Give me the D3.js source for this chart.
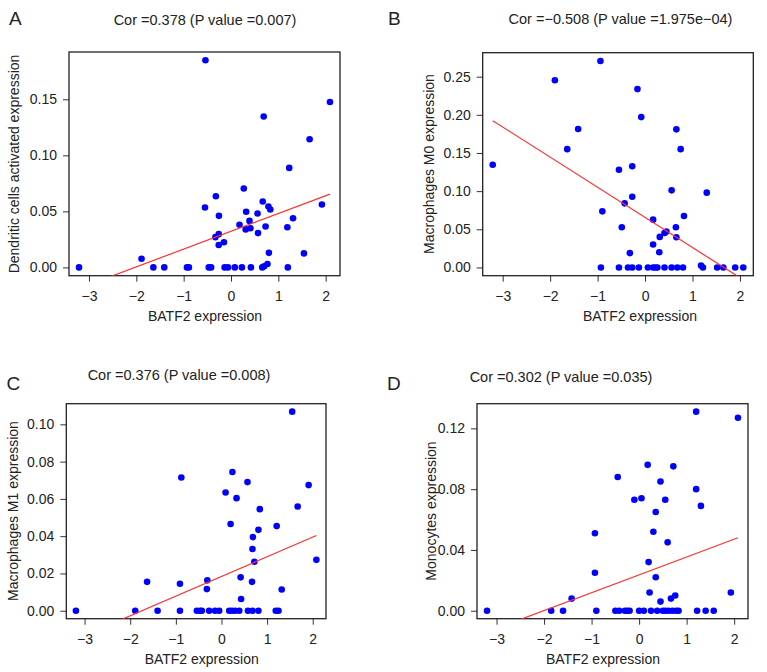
<!DOCTYPE html>
<html><head><meta charset="utf-8">
<script src="https://cdn.jsdelivr.net/npm/d3@7"></script>
<style>
body{margin:0;background:#fff}
text{font-family:"Liberation Sans",Arial,Helvetica,sans-serif;fill:#222}
</style>
</head><body>
<svg id="chart" width="767" height="672"></svg>
<script>
// ---------- DATA ----------
const panelLetters = ["A", "B", "C", "D"];
const titles = [
  "Cor =0.378 (P value =0.007)",
  "Cor =\u22120.508 (P value =1.975e\u221204)",
  "Cor =0.376 (P value =0.008)",
  "Cor =0.302 (P value =0.035)"
];
const xLabel = "BATF2 expression";
const yLabels = [
  "Dendritic cells activated expression",
  "Macrophages M0 expression",
  "Macrophages M1 expression",
  "Monocytes expression"
];
const xTicks = [-3, -2, -1, 0, 1, 2];
const yTicksA = [0, 0.05, 0.10, 0.15];
const yTicksB = [0, 0.05, 0.10, 0.15, 0.20, 0.25];
const yTicksC = [0, 0.02, 0.04, 0.06, 0.08, 0.10];
const yTicksD = [0, 0.04, 0.08, 0.12];

// Panel A: Dendritic cells activated
const dcX = [-3.21,-1.89,-1.64,-1.41,-0.93,-0.89,-0.47,-0.42,-0.135,-0.065,0.08,0.23,0.42,0.66,0.70,0.77,1.20,
  1.66,1.23,0.27,-0.32,-0.55,0.67,0.79,0.83,0.32,0.56,-0.255,0.39,1.92,1.31,0.18,0.31,0.41,0.73,0.57,1.19,
  -0.33,-0.26,-0.26,-0.15,0.80,1.54,-0.54,0.69,2.09];
const dcY = [0,0.0077,0,0,0,0,0,0,0,0,0,0,0,0,0.001,0.003,0,
  0.1143,0.0888,0.0704,0.0635,0.0535,0.0588,0.0544,0.0517,0.0496,0.0481,0.046,0.0415,0.0561,0.0439,0.038,0.0339,0.035,0.0365,0.0306,0.0359,
  0.027,0.0297,0.020,0.0225,0.013,0.0125,0.1848,0.1346,0.1476];

// Panel B: Macrophages M0
const m0X = [-0.93,-0.55,-0.36,-0.27,-0.13,0.06,0.17,0.22,0.26,0.41,0.56,0.68,0.80,1.18,1.22,1.52,1.65,1.90,2.07,
  -1.64,-0.55,-0.27,0.75,0.56,1.30,-0.27,-0.43,-0.90,0.82,0.17,-0.49,0.65,0.45,0.41,0.31,0.66,0.17,-0.32,0.30,
  -0.94,-0.16,-0.08,-1.41,0.66,-1.90,-3.21];
const m0Y = [0,0,0,0,0,0,0,0,0,0,0,0,0,0.0026,0,0,0,0,0,
  0.155,0.128,0.1326,0.155,0.101,0.098,0.0927,0.084,0.0735,0.0674,0.0626,0.0526,0.0526,0.047,0.0452,0.040,0.0395,0.030,0.0187,0.020,
  0.2706,0.2337,0.197,0.1815,0.181,0.2454,0.1345];

// Panel C: Macrophages M1
const m1X = [-0.88,1.55,0.24,0.57,1.91,0.09,0.33,0.84,1.67,0.20,1.21,0.81,0.69,0.68,0.72,2.08,-0.31,-0.32,0.42,0.67,1.32,0.43,
  -0.54,-0.47,-0.43,-0.27,-0.14,-0.05,0.17,0.23,0.30,0.39,0.58,0.68,0.81,1.19,1.25,-3.19,-1.89,-1.40,-0.91,-1.63,-0.91];
const m1Y = [0.0715,0.1068,0.0744,0.069,0.0674,0.0634,0.0604,0.0545,0.0559,0.0465,0.0454,0.0434,0.0395,0.0331,0.0263,0.0273,0.0163,0.0116,0.0179,0.0155,0.0114,0.0063,
  0,0,0,0,0,0,0,0,0,0,0,0,0,0,0,0,0,0,0,0.0155,0.0145];

// Panel D: Monocytes
const monoX = [-3.2,-1.85,-1.6,-1.42,-0.93,-0.93,-0.9,-0.45,-0.5,-0.42,-0.3,-0.2,-0.1,0.05,0.18,0.2,0.1,0.25,0.3,0.35,0.45,0.35,0.38,
  0.45,0.55,0.6,0.67,0.72,0.76,0.7,0.78,0.83,1.2,1.2,1.3,1.22,1.4,1.57,1.93,2.08,0.0,0.55,0.22,-0.25,0.62,0.5];
const monoY = [0,0,0,0.008,0.051,0.025,0,0.088,0,0,0,0,0.073,0.074,0.096,0.032,0,0,0.052,0.065,0.085,0.022,0,
  0.006,0.073,0.045,0.008,0.095,0.01,0,0,0,0.131,0.08,0.069,0,0,0,0.012,0.127,0,0,0.012,0,0,0];

// fitted regression lines: [intercept, slope]
const fitA = [0.0322, 0.01586];
const fitB = [0.0656, -0.0395];
const fitC = [0.0184, 0.01055];
const fitD = [0.0236, 0.01174];

// ---------- LAYOUT ----------
const panels = [
  {x: dcX, y: dcY, fit: fitA, yt: yTicksA, fmt: ".2f",
   box: [69, 52, 340, 275.7], letter: [9, 25], title: [205, 25], xlab: [205, 321], ylab: [18.5, 164]},
  {x: m0X, y: m0Y, fit: fitB, yt: yTicksB, fmt: ".2f",
   box: [482.7, 52.7, 753.3, 275.7], letter: [388, 25], title: [620.5, 23.5], xlab: [640, 321], ylab: [434, 164]},
  {x: m1X, y: m1Y, fit: fitC, yt: yTicksC, fmt: ".2f",
   box: [66.3, 403.7, 326, 618.7], letter: [6.5, 390], title: [179, 380], xlab: [201.7, 663.5], ylab: [18.3, 511]},
  {x: monoX, y: monoY, fit: fitD, yt: yTicksD, fmt: ".2f",
   box: [477, 403.7, 748, 618.7], letter: [387, 390], title: [561, 382], xlab: [603, 663.5], ylab: [436, 511]}
];

const svg = d3.select("#chart");

function rDomain(v) {
  const [mn, mx] = d3.extent(v);
  const r = mx - mn;
  return [mn - 0.04 * r, mx + 0.04 * r];
}

panels.forEach((p, i) => {
  const [x0, y0, x1, y1] = p.box;
  const xs = d3.scaleLinear().domain(rDomain(p.x)).range([x0, x1]);
  const ys = d3.scaleLinear().domain(rDomain(p.y)).range([y1, y0]);
  const g = svg.append("g");

  const cid = "clip" + i;
  svg.append("clipPath").attr("id", cid).append("rect")
    .attr("x", x0).attr("y", y0).attr("width", x1 - x0).attr("height", y1 - y0);

  const xa = g.append("g").attr("transform", `translate(0,${y1})`)
    .call(d3.axisBottom(xs).tickValues(xTicks).tickSize(6).tickPadding(9).tickFormat(d3.format("d")));
  const ya = g.append("g").attr("transform", `translate(${x0},0)`)
    .call(d3.axisLeft(ys).tickValues(p.yt).tickSize(6).tickPadding(6).tickFormat(d3.format(p.fmt)));
  [xa, ya].forEach(a => {
    a.select(".domain").remove();
    a.selectAll("line").attr("stroke", "#333").attr("stroke-width", 1);
    a.selectAll("text").attr("font-size", 14).attr("fill", "#222")
      .style("font-family", '"Liberation Sans",Arial,Helvetica,sans-serif');
  });

  g.append("rect").attr("x", x0).attr("y", y0).attr("width", x1 - x0).attr("height", y1 - y0)
    .attr("fill", "none").attr("stroke", "#222").attr("stroke-width", 1.3);

  const pts = p.x.map((d, k) => [d, p.y[k]]);
  g.append("g").selectAll("circle").data(pts).join("circle")
    .attr("cx", d => xs(d[0])).attr("cy", d => ys(d[1])).attr("r", 3.3)
    .attr("fill", "#0000ff");

  const [xmn, xmx] = d3.extent(p.x);
  const lineData = [xmn, xmx].map(v => [v, p.fit[0] + p.fit[1] * v]);
  g.append("path").attr("clip-path", `url(#${cid})`)
    .attr("d", d3.line().x(d => xs(d[0])).y(d => ys(d[1]))(lineData))
    .attr("stroke", "#ff3030").attr("stroke-width", 1.2).attr("fill", "none");

  g.append("text").attr("x", p.letter[0]).attr("y", p.letter[1]).attr("font-size", 19)
    .attr("fill", "#111").text(panelLetters[i]);
  g.append("text").attr("x", p.title[0]).attr("y", p.title[1]).attr("font-size", 14.5)
    .attr("text-anchor", "middle").text(titles[i]);
  g.append("text").attr("x", p.xlab[0]).attr("y", p.xlab[1]).attr("font-size", 14)
    .attr("text-anchor", "middle").text(xLabel);
  g.append("text").attr("transform", `translate(${p.ylab[0]},${p.ylab[1]}) rotate(-90)`)
    .attr("font-size", 14).attr("text-anchor", "middle").text(yLabels[i]);
});
</script>
</body></html>
